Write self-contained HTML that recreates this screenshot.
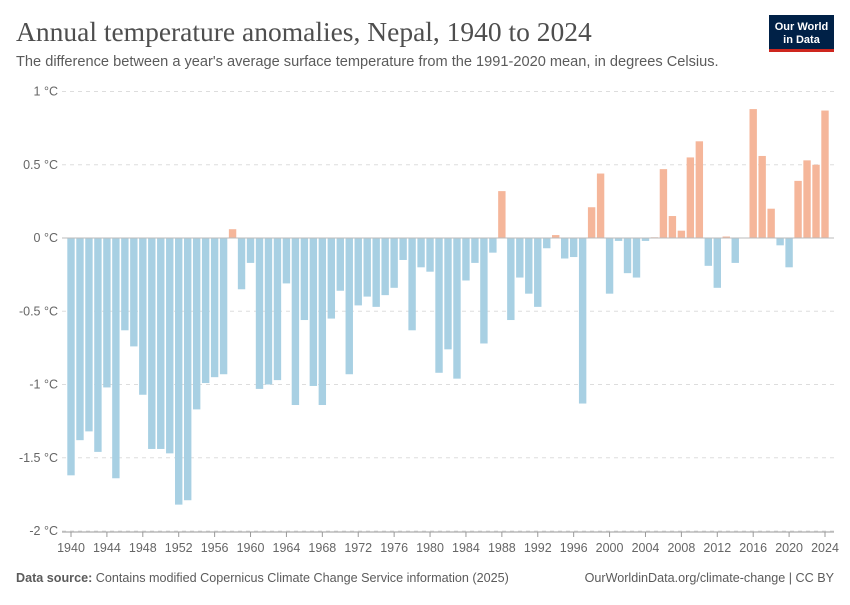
<!DOCTYPE html>
<html><head><meta charset="utf-8"><style>
body{margin:0;background:#fff;width:850px;height:600px;overflow:hidden;font-family:"Liberation Sans",sans-serif}
</style></head><body>
<svg width="850" height="600">
<text x="16" y="41" font-family="Liberation Serif,serif" font-size="27.5" fill="#4e4e4e">Annual temperature anomalies, Nepal, 1940 to 2024</text>
<text x="16" y="66" font-size="14.6" fill="#5b5b5b">The difference between a year's average surface temperature from the 1991-2020 mean, in degrees Celsius.</text>
<g><rect x="769" y="15" width="65" height="37" fill="#002147"/><rect x="769" y="49" width="65" height="3" fill="#ce261e"/>
<text x="801.5" y="30" font-size="11" font-weight="bold" fill="#fff" text-anchor="middle">Our World</text><text x="801.5" y="43" font-size="11" font-weight="bold" fill="#fff" text-anchor="middle">in Data</text></g>
<g id="grid"></g><g id="bars"></g><g id="xaxis"></g>
<text x="16" y="582" font-size="12.6" fill="#5b5b5b"><tspan font-weight="bold">Data source:</tspan> Contains modified Copernicus Climate Change Service information (2025)</text>
<text x="834" y="582" font-size="12.6" fill="#5b5b5b" text-anchor="end">OurWorldinData.org/climate-change | CC BY</text>
</svg>
<script>
const years=[];for(let y=1940;y<=2024;y++)years.push(y);
const values=[-1.62,-1.38,-1.32,-1.46,-1.02,-1.64,-0.63,-0.74,-1.07,-1.44,-1.44,-1.47,-1.82,-1.79,-1.17,-0.99,-0.95,-0.93,0.06,-0.35,-0.17,-1.03,-1.00,-0.97,-0.31,-1.14,-0.56,-1.01,-1.14,-0.55,-0.36,-0.93,-0.46,-0.40,-0.47,-0.39,-0.34,-0.15,-0.63,-0.20,-0.23,-0.92,-0.76,-0.96,-0.29,-0.17,-0.72,-0.10,0.32,-0.56,-0.27,-0.38,-0.47,-0.07,0.02,-0.14,-0.13,-1.13,0.21,0.44,-0.38,-0.02,-0.24,-0.27,-0.02,0.005,0.47,0.15,0.05,0.55,0.66,-0.19,-0.34,0.01,-0.17,0.0,0.88,0.56,0.20,-0.05,-0.20,0.39,0.53,0.50,0.87];
const yTicks=[1,0.5,0,-0.5,-1,-1.5,-2];
const yTickLabels=["1 °C","0.5 °C","0 °C","-0.5 °C","-1 °C","-1.5 °C","-2 °C"];
const y=v=>238-v*146.5;
const x=i=>71+i*(754/84);
const NS="http://www.w3.org/2000/svg";
const g=document.getElementById('grid'),b=document.getElementById('bars'),xa=document.getElementById('xaxis');
yTicks.forEach((t,i)=>{
 if(t!==0){const l=document.createElementNS(NS,'line');
 
 
 l.setAttribute('x1',62);l.setAttribute('x2',834);l.setAttribute('y1',y(t));l.setAttribute('y2',y(t));
 l.setAttribute('stroke','#ddd');l.setAttribute('stroke-dasharray','4,4');g.appendChild(l);}
 const tx=document.createElementNS(NS,'text');
 
 
 tx.setAttribute('x',58);tx.setAttribute('y',y(t)+4);tx.setAttribute('text-anchor','end');
 tx.setAttribute('font-size','12.5');tx.setAttribute('fill','#666');tx.textContent=yTickLabels[i];g.appendChild(tx);
});
values.forEach((v,i)=>{
 const r=document.createElementNS(NS,'rect');
 
 
 const top=Math.min(y(v),y(0)),h=Math.abs(y(v)-y(0));
 r.setAttribute('x',x(i)-3.7);r.setAttribute('width',7.4);r.setAttribute('y',top);r.setAttribute('height',Math.max(h,0.5));
 r.setAttribute('fill',v>=0?'#f5b69a':'#a8d0e3');b.appendChild(r);
});
const z=document.createElementNS(NS,'line');


z.setAttribute('x1',62);z.setAttribute('x2',834);z.setAttribute('y1',238);z.setAttribute('y2',238);z.setAttribute('stroke','#bbb');b.appendChild(z);
const ax=document.createElementNS(NS,'line');


ax.setAttribute('x1',62);ax.setAttribute('x2',834);ax.setAttribute('y1',532);ax.setAttribute('y2',532);ax.setAttribute('stroke','#999');xa.appendChild(ax);
years.forEach((yr,i)=>{if(yr%4)return;
 const t=document.createElementNS(NS,'line');
 
 
 t.setAttribute('x1',x(i));t.setAttribute('x2',x(i));t.setAttribute('y1',532);t.setAttribute('y2',537);t.setAttribute('stroke','#999');xa.appendChild(t);
 const tx=document.createElementNS(NS,'text');
 
 
 tx.setAttribute('x',x(i));tx.setAttribute('y',552);tx.setAttribute('text-anchor','middle');
 tx.setAttribute('font-size','12.5');tx.setAttribute('fill','#666');tx.textContent=yr;xa.appendChild(tx);
});
</script>
</body></html>
